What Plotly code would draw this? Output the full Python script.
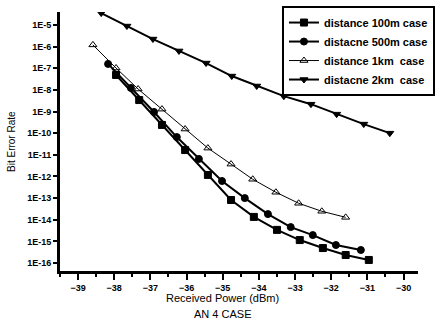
import plotly.graph_objects as go

# ---- data ----
x_100m = [-37.95, -37.31, -36.68, -36.04, -35.41, -34.77, -34.14, -33.50, -32.87, -32.23, -31.60, -30.96]
log_ber_100m = [-7.31, -8.47, -9.62, -10.78, -11.93, -13.09, -13.87, -14.47, -14.94, -15.31, -15.63, -15.86]

x_500m = [-38.17, -37.54, -36.90, -36.27, -35.66, -35.02, -34.39, -33.75, -33.12, -32.51, -31.87, -31.18]
log_ber_500m = [-6.80, -7.91, -9.02, -10.18, -11.19, -12.21, -13.00, -13.74, -14.34, -14.71, -15.17, -15.40]

x_1km = [-38.59, -37.95, -37.34, -36.68, -36.04, -35.41, -34.77, -34.17, -33.53, -32.90, -32.26, -31.60]
log_ber_1km = [-5.92, -6.99, -7.96, -8.89, -9.81, -10.69, -11.43, -12.13, -12.73, -13.24, -13.61, -13.89]

x_2km = [-38.36, -37.65, -36.93, -36.21, -35.46, -34.75, -34.06, -33.31, -32.56, -31.85, -31.10, -30.38]
log_ber_2km = [-4.45, -5.05, -5.65, -6.20, -6.76, -7.36, -7.82, -8.29, -8.66, -9.12, -9.58, -10.00]

series_names = ["distance 100m case", "distacne 500m case",
                "distance 1km\u00a0 case", "distacne 2km\u00a0 case"]

x_tick_vals = [-39, -38, -37, -36, -35, -34, -33, -32, -31, -30]
y_tick_exps = [-5, -6, -7, -8, -9, -10, -11, -12, -13, -14, -15, -16]
y_tick_text = ["1E-%d" % (-e) for e in y_tick_exps]

x_title = "Received Power (dBm)"
sub_title = "AN 4 CASE"
y_title = "Bit Error Rate"

# ---- figure ----
FONT = "Liberation Sans, Arial, sans-serif"

def to_ber(logs):
    return [10 ** v for v in logs]

styles = [
    dict(symbol="square", width=2),
    dict(symbol="circle", width=2),
    dict(symbol="triangle-up-open", width=1),
    dict(symbol="triangle-down", width=2),
]
xs = [x_100m, x_500m, x_1km, x_2km]
ys = [log_ber_100m, log_ber_500m, log_ber_1km, log_ber_2km]

fig = go.Figure()
for name, x, y, st in zip(series_names, xs, ys, styles):
    fig.add_trace(go.Scatter(
        x=x, y=to_ber(y), name=name, mode="lines+markers",
        line=dict(color="black", width=st["width"]),
        marker=dict(symbol=st["symbol"], size=7, color="black",
                    line=dict(color="black", width=1)),
    ))

fig.update_layout(
    width=441, height=327,
    margin=dict(l=60, r=23, t=12, b=56, autoexpand=False),
    paper_bgcolor="white", plot_bgcolor="white",
    font=dict(family=FONT, size=9, color="black"),
    showlegend=True,
    legend=dict(
        x=0.62, y=1.023, xanchor="left", yanchor="top",
        bgcolor="white", bordercolor="black", borderwidth=2,
        font=dict(family=FONT, size=11, color="black", weight="bold"),
        tracegroupgap=0, itemwidth=30,
    ),
    xaxis=dict(
        range=[-39.5, -29.6], tickvals=x_tick_vals,
        showgrid=False, zeroline=False,
        showline=True, linecolor="black", linewidth=3,
        ticks="outside", ticklen=6, tickwidth=2, tickcolor="black",
        minor=dict(dtick=0.5, tick0=-39.5, ticks="outside", ticklen=3, tickwidth=2, tickcolor="black"),
        tickfont=dict(size=9, weight="bold"),
        automargin=False,
    ),
    yaxis=dict(
        type="log", range=[-16.37, -4.4],
        tickvals=[10 ** e for e in y_tick_exps], ticktext=y_tick_text,
        showgrid=False, zeroline=False,
        showline=True, linecolor="black", linewidth=3,
        ticks="outside", ticklen=4, tickwidth=2, tickcolor="black",
        tickfont=dict(size=9, weight="bold"),
        automargin=False,
    ),
    annotations=[
        dict(text=x_title, x=-35.0, xref="x", y=-0.075, yref="paper",
             yanchor="top", showarrow=False, font=dict(size=11)),
        dict(text=sub_title, x=-35.0, xref="x", y=-0.135, yref="paper",
             yanchor="top", showarrow=False, font=dict(size=11)),
        dict(text=y_title, x=-0.1453, xref="paper", y=0.5, yref="paper",
             xshift=-4, textangle=-90, showarrow=False, font=dict(size=10)),
    ],
)

fig.write_html("out.html", config={"displayModeBar": False},
               post_script="document.body.style.margin='0';")
